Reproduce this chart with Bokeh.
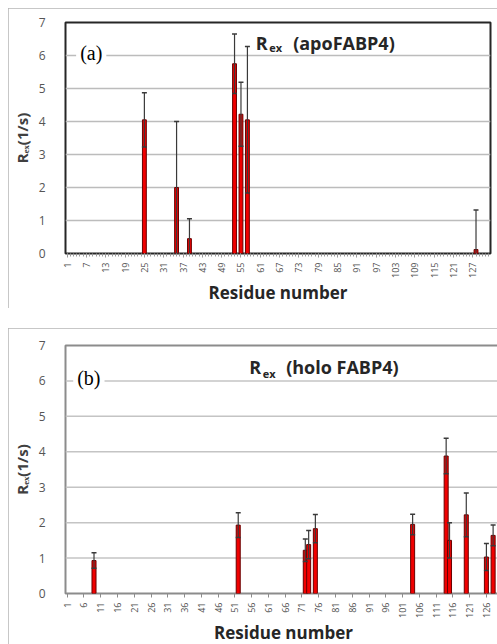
from math import pi
from bokeh.plotting import figure
from bokeh.models import ColumnDataSource, Range1d, FixedTicker, Label
from bokeh.layouts import column
from bokeh.embed import file_html
from bokeh.resources import INLINE

# ---- Panel (a): apoFABP4 ----
res_a = [25, 35, 39, 53, 55, 57, 128]
rex_a = [4.05, 2.0, 0.45, 5.75, 4.22, 4.05, 0.12]
err_a = [0.82, 2.0, 0.6, 0.9, 0.97, 2.22, 1.2]
ticks_a = [1, 7, 13, 19, 25, 31, 37, 43, 49, 55, 61, 67, 73, 79, 85, 91, 97,
           103, 109, 115, 121, 127]
n_res_a = 132

# ---- Panel (b): holo FABP4 ----
res_b = [9, 52, 72, 73, 75, 104, 114, 115, 120, 126, 128]
rex_b = [0.93, 1.93, 1.22, 1.38, 1.83, 1.95, 3.88, 1.5, 2.22, 1.03, 1.64]
err_b = [0.22, 0.35, 0.32, 0.4, 0.4, 0.29, 0.5, 0.5, 0.62, 0.38, 0.29]
ticks_b = [1, 6, 11, 16, 21, 26, 31, 36, 41, 46, 51, 56, 61, 66, 71, 76, 81,
           86, 91, 96, 101, 106, 111, 116, 121, 126]
n_res_b = 130

y_ticks = [0, 1, 2, 3, 4, 5, 6, 7]
grid_ticks = [1, 2, 3, 4, 5, 6]


def make_panel(res, rex, err, ticks, n_res, bl, fw, br, bt, fh, bb,
               frame_color, tick_color, grid_color, all_minor, tag, tag_x, tag_y,
               title_word, rx, ex_x, wx, ty, ex_y):
    x_lo, x_hi = 0.5, n_res + 0.5
    p = figure(frame_width=fw, frame_height=fh,
               min_border_left=bl, min_border_right=br,
               min_border_top=bt, min_border_bottom=bb,
               x_range=Range1d(x_lo, x_hi), y_range=Range1d(0, 7),
               output_backend="svg", toolbar_location=None)
    p.styles = {"outline": "1px solid #b5b5b5", "outline-offset": "-1px"}
    p.background_fill_color = "white"
    p.border_fill_color = "white"
    p.outline_line_color = frame_color
    p.outline_line_width = 2

    # horizontal grid lines: frame-wide dash markers drawn before the bars
    p.xgrid.visible = False
    p.ygrid.visible = False
    x_mid = (x_lo + x_hi) / 2.0
    gsrc = ColumnDataSource(dict(y=grid_ticks, x=[x_mid] * len(grid_ticks)))
    p.scatter(x="x", y="y", marker="dash", size=fw, source=gsrc,
              line_color=grid_color, line_width=1.5)

    # y axis
    ya = p.yaxis[0]
    ya.ticker = FixedTicker(ticks=y_ticks)
    ya.axis_line_color = None
    ya.major_tick_line_color = None
    ya.minor_tick_line_color = None
    ya.major_label_standoff = 14
    ya.major_label_text_font = "Open Sans"
    ya.major_label_text_font_size = "12px"
    ya.major_label_text_color = "#555555"
    ya.axis_label = "Rₑₓ(1/s)"
    ya.axis_label_text_font = "Open Sans"
    ya.axis_label_text_font_style = "bold"
    ya.axis_label_text_font_size = "15px"
    ya.axis_label_text_color = "#404040"
    ya.axis_label_standoff = 4

    # x axis
    xa = p.xaxis[0]
    minor = list(range(1, n_res + 1)) if all_minor else []
    xa.ticker = FixedTicker(ticks=ticks, minor_ticks=minor)
    xa.axis_line_color = None
    xa.major_tick_line_color = tick_color
    xa.major_tick_in = 0
    xa.major_tick_out = 4
    xa.minor_tick_line_color = tick_color if all_minor else None
    xa.minor_tick_in = 0
    xa.minor_tick_out = 3
    xa.major_label_orientation = pi / 2
    xa.major_label_standoff = 5
    xa.major_label_text_font = "Open Sans"
    xa.major_label_text_font_size = "9px"
    xa.major_label_text_color = "#505050"
    xa.axis_label = "Residue number"
    xa.axis_label_text_font = "Open Sans"
    xa.axis_label_text_font_style = "bold"
    xa.axis_label_text_font_size = "17px"
    xa.axis_label_text_color = "#262626"
    xa.axis_label_standoff = 0

    src = ColumnDataSource(dict(
        res=res, rex=rex,
        hi=[v + e for v, e in zip(rex, err)],
        lo=[v - e for v, e in zip(rex, err)],
    ))
    p.vbar(x="res", top="rex", bottom=0, width=1.2, source=src,
           fill_color="#f00000", line_color="#6a0000", line_width=1)
    p.segment(x0="res", y0="lo", x1="res", y1="hi", source=src,
              line_color="#3a3a3a", line_width=1.2)
    p.scatter(x="res", y="hi", marker="dash", size=5, source=src,
              line_color="#3a3a3a", line_width=1.5)
    p.scatter(x="res", y="lo", marker="dash", size=5, source=src,
              line_color="#3a3a3a", line_width=1.5)

    # panel tag
    p.add_layout(Label(x=tag_x, y=tag_y, text=tag, text_font="Liberation Serif",
                       text_font_size="20px", text_color="black",
                       text_baseline="middle", text_align="left",
                       background_fill_color="white", padding=4))
    # in-plot title: R_ex (...)
    p.add_layout(Label(x=rx, y=ty, text="R", text_font="Open Sans",
                       text_font_style="bold", text_font_size="18px",
                       text_color="#262626", text_baseline="alphabetic"))
    p.add_layout(Label(x=ex_x, y=ex_y, text="ex", text_font="Open Sans",
                       text_font_style="bold", text_font_size="11px",
                       text_color="#262626", text_baseline="alphabetic"))
    p.add_layout(Label(x=wx, y=ty, text=title_word, text_font="Open Sans",
                       text_font_style="bold", text_font_size="18px",
                       text_color="#262626", text_baseline="alphabetic"))
    return p


p1 = make_panel(res_a, rex_a, err_a, ticks_a, n_res_a,
                bl=52, fw=425, br=10, bt=14, fh=231, bb=55,
                frame_color="#262626", tick_color="#9a9a9a", grid_color="#bcbcbc",
                all_minor=True,
                tag="(a)", tag_x=3.8, tag_y=6.09,
                title_word="(apoFABP4)", rx=59.6, ex_x=63.8, wx=71.2,
                ty=6.38, ex_y=6.25)
p2 = make_panel(res_b, rex_b, err_b, ticks_b, n_res_b,
                bl=47, fw=436, br=6, bt=17, fh=248, bb=51,
                frame_color="#8c8c8c", tick_color="#8c8c8c", grid_color="#c4c4c4",
                all_minor=False,
                tag="(b)", tag_x=2.8, tag_y=6.07,
                title_word="(holo FABP4)", rx=55.3, ex_x=59.3, wx=66.3,
                ty=6.38, ex_y=6.2)

p1.margin = (8, 0, 0, 8)
p2.margin = (20, 0, 0, 8)
layout = column(p1, p2, spacing=0)

open("out.html", "w").write(file_html(layout, INLINE))
